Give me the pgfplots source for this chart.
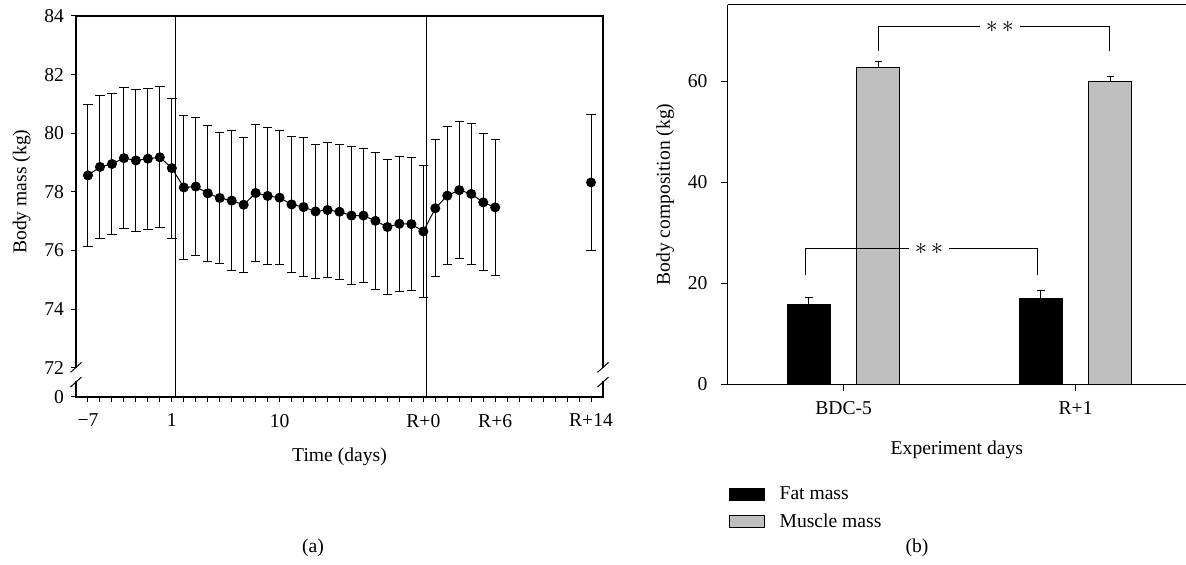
\documentclass[border=0pt]{standalone}
\usepackage{fontspec}
\setmainfont{Liberation Serif}
\usepackage{pgfplots}
\pgfplotsset{compat=1.18}

\definecolor{barGrey}{RGB}{191,191,191}

\begin{document}
\begin{tikzpicture}[font=\fontsize{9.8}{11.5}\selectfont]
\useasboundingbox (0,0) rectangle (593pt,282.5pt);

% (a) body mass over time; x = day index, 0 = day -7, 7 = day 1, 28 = R+0, 42 = R+14
\begin{axis}[
  scale only axis, width=263.5pt, height=190.5pt,
  at={(38pt,84pt)}, anchor=south west,
  xmin=-1, xmax=43, ymin=71, ymax=84,
  xtick={0,7,16,28,34,42},
  xticklabels={−7,1,10,R+0,R+6,R+14},
  minor xtick={0,...,42},
  ytick={71,72,74,76,78,80,82,84},
  yticklabels={0,72,74,76,78,80,82,84},
  tick pos=left, tick align=outside,
  major tick length=2.5pt, minor tick length=2.5pt,
  every tick/.style={black, line width=0.5pt},
  axis line style={line width=0.6pt},
  xticklabel style={yshift=-2.5pt},
  xlabel={Time (days)}, ylabel={Body mass (kg)},
  xlabel style={yshift=-3.5pt},
  ylabel style={at={(ticklabel cs:0.539)}},
  clip=false,
]
  \draw[line width=0.5pt] (axis cs:7.3,71) -- (axis cs:7.3,84);
  \draw[line width=0.5pt] (axis cs:28.3,71) -- (axis cs:28.3,84);

  \addplot[black, line width=0.5pt, mark=*, mark size=2.25pt,
    error bars/.cd, y dir=both, y explicit,
    error bar style={line width=0.5pt},
    error mark options={black, rotate=90, mark size=2.35pt, line width=0.5pt}]
  coordinates {
    (0,78.56) +- (0,2.42)  (1,78.85) +- (0,2.45)  (2,78.95) +- (0,2.42)
    (3,79.15) +- (0,2.41)  (4,79.07) +- (0,2.41)  (5,79.13) +- (0,2.41)
    (6,79.18) +- (0,2.41)  (7,78.81) +- (0,2.39)  (8,78.15) +- (0,2.45)
    (9,78.18) +- (0,2.34)  (10,77.95) +- (0,2.33) (11,77.79) +- (0,2.22)
    (12,77.70) +- (0,2.38) (13,77.56) +- (0,2.31) (14,77.96) +- (0,2.35)
    (15,77.86) +- (0,2.35) (16,77.80) +- (0,2.28) (17,77.57) +- (0,2.31)
    (18,77.48) +- (0,2.36) (19,77.33) +- (0,2.30) (20,77.38) +- (0,2.29)
    (21,77.32) +- (0,2.30) (22,77.19) +- (0,2.34) (23,77.19) +- (0,2.30)
    (24,77.01) +- (0,2.33) (25,76.80) +- (0,2.31) (26,76.91) +- (0,2.31)
    (27,76.90) +- (0,2.27) (28,76.65) +- (0,2.26) (29,77.44) +- (0,2.34)
    (30,77.87) +- (0,2.36) (31,78.06) +- (0,2.35) (32,77.93) +- (0,2.40)
    (33,77.64) +- (0,2.34) (34,77.47) +- (0,2.31)
  };
  \addplot[black, only marks, mark=*, mark size=2.25pt,
    error bars/.cd, y dir=both, y explicit,
    error bar style={line width=0.5pt},
    error mark options={black, rotate=90, mark size=2.35pt, line width=0.5pt}]
  coordinates {(42,78.32) +- (0,2.31)};

  % axis breaks
  \draw[white, line width=2pt] (axis cs:-1,71.53) -- (axis cs:-1,71.99);
  \draw[white, line width=2pt] (axis cs:43,71.53) -- (axis cs:43,71.99);
  \draw[line width=0.5pt] (axis cs:-1.46,71.84) -- (axis cs:-0.54,72.18);
  \draw[line width=0.5pt] (axis cs:-1.46,71.34) -- (axis cs:-0.54,71.68);
  \draw[line width=0.5pt] (axis cs:42.54,71.84) -- (axis cs:43.46,72.18);
  \draw[line width=0.5pt] (axis cs:42.54,71.34) -- (axis cs:43.46,71.68);
\end{axis}

% (b) body composition
\begin{axis}[
  scale only axis, width=229.15pt, height=189.8pt,
  at={(363.85pt,90.35pt)}, anchor=south west,
  xmin=-0.5, xmax=1.476, ymin=0, ymax=75.2,
  axis x line*=box, axis y line*=left,
  axis line style={-, line width=0.6pt},
  ybar, bar width=21.5pt,
  xtick={0,1}, xticklabels={BDC-5,R+1},
  ytick={0,20,40,60},
  /pgf/number format/assume math mode=true,
  xtick pos=left, ytick pos=left, tick align=outside,
  major tick length=3.6pt,
  every tick/.style={black, line width=0.5pt},
  yticklabel style={xshift=-3pt},
  xticklabel style={yshift=-1.5pt},
  xlabel={Experiment days}, ylabel={Body composition (kg)},
  xlabel style={yshift=-6pt},
  legend image code/.code={\draw[#1, line width=0.5pt] (0pt,-3pt) rectangle (17.5pt,3pt);},
  legend style={at={(axis description cs:-0.012,-0.25)}, anchor=north west,
    draw=none, fill=none, row sep=2.5pt, column sep=6pt,
    nodes={inner sep=1.5pt}},
  legend cell align=left,
  clip=false,
]
  \addplot[fill=black, draw=black, line width=0.5pt, bar shift=-17.4pt,
    error bars/.cd, y dir=plus, y explicit,
    error bar style={line width=0.5pt},
    error mark options={black, rotate=90, mark size=1.9pt, line width=0.5pt}]
  coordinates {(0,15.76) +- (0,1.4) (1,17.09) +- (0,1.5)};
  \addplot[fill=barGrey, draw=black, line width=0.5pt, bar shift=17.4pt,
    error bars/.cd, y dir=plus, y explicit,
    error bar style={line width=0.5pt},
    error mark options={black, rotate=90, mark size=1.9pt, line width=0.5pt}]
  coordinates {(0,62.7) +- (0,1.2) (1,59.9) +- (0,1.1)};
  \legend{Fat mass, Muscle mass}

  \draw[line width=0.5pt] (axis cs:0.148,66.0) -- (axis cs:0.148,70.8) -- (axis cs:1.148,70.8) -- (axis cs:1.148,66.0);
  \node[fill=white, inner xsep=3pt, inner ysep=1pt] at (axis cs:0.673,70.8) {\large$\ast\,\ast$};
  \draw[line width=0.5pt] (axis cs:-0.164,21.6) -- (axis cs:-0.164,26.9) -- (axis cs:0.834,26.9) -- (axis cs:0.834,21.6);
  \node[fill=white, inner xsep=3pt, inner ysep=1pt] at (axis cs:0.367,26.9) {\large$\ast\,\ast$};
\end{axis}

\node at (156.5pt,8.5pt) {(a)};
\node at (458.5pt,8.5pt) {(b)};
\end{tikzpicture}
\end{document}
